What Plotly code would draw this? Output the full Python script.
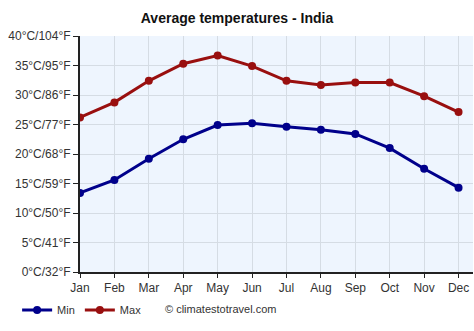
import plotly.graph_objects as go

months = ["Jan", "Feb", "Mar", "Apr", "May", "Jun", "Jul", "Aug", "Sep", "Oct", "Nov", "Dec"]
tmin = [13.4, 15.6, 19.2, 22.5, 24.9, 25.2, 24.6, 24.1, 23.4, 21.0, 17.5, 14.3]
tmax = [26.2, 28.75, 32.4, 35.3, 36.7, 34.9, 32.4, 31.7, 32.1, 32.1, 29.8, 27.1]
ytick_vals = [0, 5, 10, 15, 20, 25, 30, 35, 40]
ytick_text = ["0°C/32°F", "5°C/41°F", "10°C/50°F", "15°C/59°F", "20°C/68°F",
              "25°C/77°F", "30°C/86°F", "35°C/95°F", "40°C/104°F"]

x = list(range(len(months)))

fig = go.Figure()
fig.add_trace(go.Scatter(x=x, y=tmin, name="Min", mode="lines+markers",
                         line=dict(color="#00008B", width=3),
                         marker=dict(size=8, color="#00008B")))
fig.add_trace(go.Scatter(x=x, y=tmax, name="Max", mode="lines+markers",
                         line=dict(color="#990F0F", width=3),
                         marker=dict(size=8, color="#990F0F")))

fig.update_layout(
    width=474, height=331,
    margin=dict(l=80, r=1, t=36, b=59),
    paper_bgcolor="white",
    plot_bgcolor="#EEF5FE",
    font=dict(family="Liberation Sans, Arial, sans-serif", size=12, color="#333333"),
    title=dict(text="<b>Average temperatures - India</b>", x=0.5, xanchor="center",
               y=1 - 18 / 331, yanchor="middle",
               font=dict(size=14, color="#111111")),
    showlegend=True,
    legend=dict(orientation="h", x=-0.16, xanchor="left", y=-0.10, yanchor="top",
                font=dict(size=11, color="#333333"), itemwidth=30,
                bgcolor="rgba(0,0,0,0)"),
    xaxis=dict(range=[0, 11.42], tickvals=x, ticktext=months,
               showgrid=True, gridcolor="#D5DCE4", gridwidth=1,
               showline=True, linecolor="#222222", linewidth=2,
               ticks="outside", ticklen=4, tickcolor="#222222",
               zeroline=False, tickfont=dict(size=12, color="#333333")),
    yaxis=dict(range=[0, 40], tickvals=ytick_vals, ticktext=ytick_text,
               showgrid=True, gridcolor="#D5DCE4", gridwidth=1,
               showline=True, linecolor="#222222", linewidth=2,
               ticks="outside", ticklen=5, tickcolor="#222222",
               zeroline=False, tickfont=dict(size=12, color="#333333")),
)

fig.add_annotation(text="© climatestotravel.com", xref="paper", yref="paper",
                   x=(163 - 80) / 393, y=-(309 - 272) / 236, xanchor="left", yanchor="middle",
                   showarrow=False, font=dict(size=11, color="#333333"))

fig.write_html("out.html")
